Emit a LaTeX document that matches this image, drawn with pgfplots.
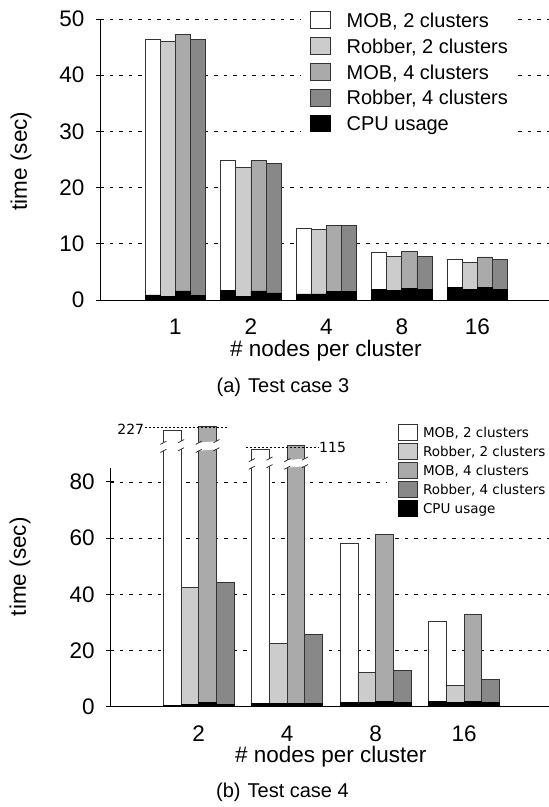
\documentclass[border=0pt]{standalone}
\usepackage{fontspec}
\setmainfont{Liberation Sans}
\newfontfamily\dejavu{DejaVu Sans}
\usepackage{pgfplots}
\pgfplotsset{compat=1.18}
\definecolor{gA}{HTML}{CCCCCC}
\definecolor{gB}{HTML}{AAAAAA}
\definecolor{gC}{HTML}{888888}
\definecolor{edge}{HTML}{333333}
\pgfplotsset{
  base/.style={scale only axis, axis x line=bottom, axis y line=left,
    axis line style={-, line width=0.8bp, black},
    xtick style={draw=none}, ytick style={line width=0.8bp, black},
    major tick length=8bp,
    ymajorgrids, major grid style={dash pattern=on 3.5bp off 6bp, line width=0.6bp, black},
    tick label style={font=\fontsize{22.5bp}{27bp}\selectfont},
    /pgf/number format/assume math mode=true,
    yticklabel style={anchor=east, inner sep=0pt, xshift=-11.5bp},
    xticklabel style={anchor=north, inner sep=0pt, yshift=-15bp},
    label style={font=\fontsize{22.5bp}{27bp}\selectfont},
    clip=false, legend cell align=left},
  barstyle/.style={ybar, bar width=0.2, bar shift=0pt, draw=edge, line width=0.8bp},
  lgtop/.style={legend image code/.code={\path[draw=none,fill=none] (0bp,-12.9bp) rectangle (19.5bp,12.9bp); \draw[##1] (0bp,-8.35bp) rectangle (19.5bp,8.35bp);}},
  lgbot/.style={legend image code/.code={\path[draw=none,fill=none] (0bp,-9.5bp) rectangle (19.3bp,9.5bp); \draw[##1] (0bp,-8.35bp) rectangle (19.3bp,8.35bp);}},
}
\newcommand\brk[4]{%
  \fill[white] ([xshift=-0.7bp,yshift=-0.8bp]axis cs:#1,#3) -- ([xshift=0.7bp,yshift=0.8bp]axis cs:#2,#3) -- ([xshift=0.7bp,yshift=0.8bp]axis cs:#2,#4) -- ([xshift=-0.7bp,yshift=-0.8bp]axis cs:#1,#4) -- cycle;
  \draw[edge, line width=0.8bp] ([xshift=-3bp,yshift=-2.4bp]axis cs:#1,#3) -- ([xshift=3bp,yshift=0.8bp]axis cs:#1,#3);
  \draw[edge, line width=0.8bp] ([xshift=-3bp,yshift=-2.4bp]axis cs:#1,#4) -- ([xshift=3bp,yshift=0.8bp]axis cs:#1,#4);
  \draw[edge, line width=0.8bp] ([xshift=-3bp,yshift=-0.8bp]axis cs:#2,#3) -- ([xshift=3bp,yshift=2.4bp]axis cs:#2,#3);
  \draw[edge, line width=0.8bp] ([xshift=-3bp,yshift=-0.8bp]axis cs:#2,#4) -- ([xshift=3bp,yshift=2.4bp]axis cs:#2,#4);
}
\begin{document}
\begin{tikzpicture}[x=1bp,y=1bp]
\useasboundingbox (0,0) rectangle (549,807);
% ---------- (a) Test case 3 ----------
\begin{axis}[base, at={(100bp,507bp)}, anchor=south west, width=449bp, height=281bp,
  xmin=-1, xmax=4.95, ymin=0, ymax=50, ytick={0,10,20,30,40,50},
  xtick={0,1,2,3,4}, xticklabels={1,2,4,8,16},
  xlabel={\# nodes per cluster}, ylabel={time (sec)},
  xlabel style={at={(axis description cs:0.5031,-0.2028)}, anchor=base},
  ylabel style={at={(axis description cs:-0.1626,0.495)}, anchor=base},
  legend style={at={(0.4477,1.0423)}, anchor=north west, draw=none, fill=white,
    inner xsep=9bp, inner ysep=0bp, row sep=0bp,
    font=\fontsize{20bp}{24bp}\selectfont,
    /tikz/every odd column/.append style={column sep=16.1bp},
    nodes={inner sep=0pt, text height=14.5bp, text depth=0bp},
    cells={anchor=west}}]
\addplot[barstyle, fill=white, lgtop] coordinates {(-0.3,46.3) (0.7,24.8) (1.7,12.75) (2.7,8.4) (3.7,7.2)};
\addlegendentry{MOB, 2 clusters}
\addplot[barstyle, fill=gA, lgtop] coordinates {(-0.1,46.0) (0.9,23.6) (1.9,12.6) (2.9,7.7) (3.9,6.6)};
\addlegendentry{Robber, 2 clusters}
\addplot[barstyle, fill=gB, lgtop] coordinates {(0.1,47.3) (1.1,24.8) (2.1,13.2) (3.1,8.6) (4.1,7.65)};
\addlegendentry{MOB, 4 clusters}
\addplot[barstyle, fill=gC, lgtop] coordinates {(0.3,46.4) (1.3,24.3) (2.3,13.2) (3.3,7.8) (4.3,7.2)};
\addlegendentry{Robber, 4 clusters}
\addplot[barstyle, fill=black, draw=black, lgtop] coordinates {(-0.3,0.9) (0.7,1.7) (1.7,1.07) (2.7,1.85) (3.7,2.2)};
\addlegendentry{CPU usage}
\addplot[barstyle, fill=black, draw=black, forget plot] coordinates {(-0.1,0.7) (0.9,0.7) (1.9,1.07) (2.9,1.65) (3.9,1.9)};
\addplot[barstyle, fill=black, draw=black, forget plot] coordinates {(0.1,1.6) (1.1,1.6) (2.1,1.5) (3.1,2.0) (4.1,2.3)};
\addplot[barstyle, fill=black, draw=black, forget plot] coordinates {(0.3,0.8) (1.3,1.25) (2.3,1.5) (3.3,1.8) (4.3,1.95)};
\end{axis}
\node[anchor=base, font=\fontsize{20bp}{24bp}\selectfont, inner sep=0pt] at (283,414.5) {(a)\hspace{7bp}Test case 3};
% ---------- (b) Test case 4 ----------
\begin{axis}[base, at={(110.3bp,100.3bp)}, anchor=south west, width=438.7bp, height=238.9bp,
  xmin=-1, xmax=3.96, ymin=0, ymax=85, ytick={0,20,40,60,80},
  xtick={0,1,2,3}, xticklabels={2,4,8,16},
  xlabel={\# nodes per cluster}, ylabel={time (sec)},
  xlabel style={at={(axis description cs:0.5027,-0.2315)}, anchor=base},
  ylabel style={at={(axis description cs:-0.1922,0.586)}, anchor=base},
  legend style={at={(0.6307,1.1884)}, anchor=north west, draw=none, fill=white,
    inner xsep=10.4bp, inner ysep=0bp, row sep=0bp,
    font=\dejavu\fontsize{13.5bp}{16bp}\selectfont,
    /tikz/every odd column/.append style={column sep=5.3bp},
    nodes={inner sep=0pt, text height=9.84bp, text depth=0bp},
    cells={anchor=west}}]
\addplot[barstyle, fill=white, lgbot] coordinates {(-0.3,98.4) (0.7,91.7) (1.7,58.1) (2.7,30.5)};
\addlegendentry{MOB, 2 clusters}
\addplot[barstyle, fill=gA, lgbot] coordinates {(-0.1,42.5) (0.9,22.6) (1.9,12.1) (2.9,7.6)};
\addlegendentry{Robber, 2 clusters}
\addplot[barstyle, fill=gB, lgbot] coordinates {(0.1,99.9) (1.1,93.0) (2.1,61.3) (3.1,32.9)};
\addlegendentry{MOB, 4 clusters}
\addplot[barstyle, fill=gC, lgbot] coordinates {(0.3,44.1) (1.3,25.8) (2.3,12.95) (3.3,9.6)};
\addlegendentry{Robber, 4 clusters}
\addplot[barstyle, fill=black, draw=black, lgbot] coordinates {(-0.3,0.6) (0.7,1.07) (1.7,1.42) (2.7,1.9)};
\addlegendentry{CPU usage}
\addplot[barstyle, fill=black, draw=black, forget plot] coordinates {(-0.1,0.8) (0.9,1.2) (1.9,1.42) (2.9,1.54)};
\addplot[barstyle, fill=black, draw=black, forget plot] coordinates {(0.1,1.55) (1.1,1.2) (2.1,1.78) (3.1,1.9)};
\addplot[barstyle, fill=black, draw=black, forget plot] coordinates {(0.3,0.95) (1.3,1.2) (2.3,1.54) (3.3,1.66)};
\brk{-0.4}{-0.2}{91.3}{94.2}
\brk{0}{0.2}{91.3}{94.2}
\brk{0.6}{0.8}{85.3}{88.0}
\brk{1.0}{1.2}{85.3}{88.0}
\draw[black, line width=0.6bp, dash pattern=on 2bp off 2bp] (axis cs:-0.604,99.3) -- (axis cs:0.325,99.3);
\node[anchor=east, inner sep=0pt, font=\dejavu\fontsize{14bp}{17bp}\selectfont] at (axis cs:-0.615,98.8) {227};
\draw[black, line width=0.6bp, dash pattern=on 2bp off 2bp] (axis cs:0.529,92.3) -- (axis cs:1.351,92.3);
\node[anchor=west, inner sep=0pt, font=\dejavu\fontsize{14bp}{17bp}\selectfont] at (axis cs:1.36,92.1) {115};
\end{axis}
\node[anchor=base, font=\fontsize{20bp}{24bp}\selectfont, inner sep=0pt] at (282.5,9) {(b)\hspace{7bp}Test case 4};
\end{tikzpicture}
\end{document}
